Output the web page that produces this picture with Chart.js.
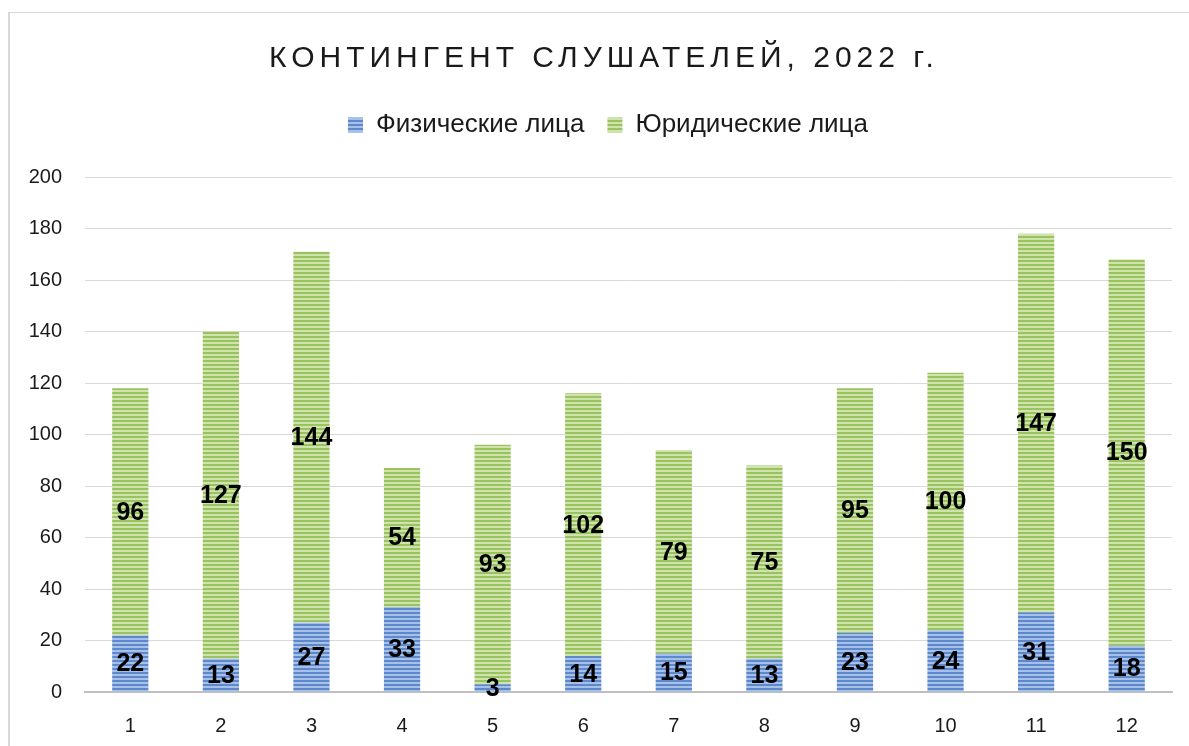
<!DOCTYPE html>
<html lang="ru">
<head>
<meta charset="utf-8">
<title>Контингент слушателей, 2022 г.</title>
<script src="https://cdn.jsdelivr.net/npm/chart.js@4.4.1/dist/chart.umd.min.js"></script>
<style>
  html, body { margin: 0; padding: 0; background: #fff; overflow: hidden; }
  #frame {
    position: absolute; left: 8px; top: 12px; width: 1300px; height: 900px;
    border-left: 2px solid #d9d9d9; border-top: 1px solid #d9d9d9;
  }
  #title {
    position: absolute; left: 8px; width: 1192px; top: 40px;
    text-align: center; font-family: "Liberation Sans", Arial, sans-serif;
    font-size: 30px; letter-spacing: 5px; color: #1a1a1a;
  }
  #myChart { position: absolute; left: 8px; top: 0; }
</style>
</head>
<body>
<div id="frame"></div>
<canvas id="myChart" width="1192" height="746"></canvas>
<div id="title">КОНТИНГЕНТ СЛУШАТЕЛЕЙ, 2022 г.</div>

<script>
const months = ['1', '2', '3', '4', '5', '6', '7', '8', '9', '10', '11', '12'];
const individuals = [22, 13, 27, 33, 3, 14, 15, 13, 23, 24, 31, 18];
const companies = [96, 127, 144, 54, 93, 102, 79, 75, 95, 100, 147, 150];
const yTicks = [0, 20, 40, 60, 80, 100, 120, 140, 160, 180, 200];

// striped fill like the excel "horizontal lines" pattern
function stripes(dark, light) {
    const c = document.createElement('canvas');
    c.width = 8;
    c.height = 4;
    const g = c.getContext('2d');
    g.fillStyle = light;
    g.fillRect(0, 0, 8, 4);
    g.fillStyle = dark;
    g.fillRect(0, 0, 8, 2);
    return g.createPattern(c, 'repeat');
}

const blueFill = stripes('#5d89cc', '#a6c0e8');
const greenFill = stripes('#9ac25f', '#cfe3ad');

const font = '"Liberation Sans", Arial, sans-serif';

// push the plot area down below the legend, and nudge the legend right
const legendSpace = {
    id: 'legendSpace',
    beforeLayout(chart) {
        const legend = chart.legend;
        if (legend && !legend._patched) {
            const fit = legend.fit;
            legend.fit = function () {
                fit.call(this);
                this.height += 29;
            };
            legend._patched = true;
        }
    },
    afterLayout(chart) {
        chart.legend.left += 18;
        chart.legend.right += 18;
    }
};

// value labels in the middle of every segment
const barLabels = {
    id: 'barLabels',
    afterDatasetsDraw(chart) {
        const ctx = chart.ctx;
        ctx.save();
        ctx.font = 'bold 25px ' + font;
        ctx.fillStyle = '#000';
        ctx.textAlign = 'center';
        ctx.textBaseline = 'middle';
        chart.data.datasets.forEach((ds, i) => {
            chart.getDatasetMeta(i).data.forEach((bar, j) => {
                ctx.fillText(ds.data[j], bar.x, (bar.y + bar.base) / 2 + 1);
            });
        });
        ctx.restore();
    }
};

var ctx = document.getElementById('myChart').getContext('2d');
var myChart = new Chart(ctx, {
    type: 'bar',
    data: {
        labels: months,
        datasets: [{
            label: 'Физические лица',
            data: individuals,
            backgroundColor: blueFill,
            borderWidth: 0,
            barPercentage: 0.4,
            categoryPercentage: 1
        }, {
            label: 'Юридические лица',
            data: companies,
            backgroundColor: greenFill,
            borderWidth: 0,
            barPercentage: 0.4,
            categoryPercentage: 1
        }]
    },
    options: {
        responsive: false,
        animation: false,
        layout: {
            padding: { top: 89, right: 28, bottom: 0, left: 0 }
        },
        plugins: {
            legend: {
                position: 'top',
                labels: {
                    font: { family: font, size: 26 },
                    color: '#1a1a1a',
                    boxWidth: 15,
                    boxHeight: 15,
                    padding: 23
                }
            },
            tooltip: { enabled: false }
        },
        scales: {
            x: {
                stacked: true,
                grid: { display: false },
                border: { display: true, color: '#bfbfbf', width: 2 },
                ticks: {
                    font: { family: font, size: 20 },
                    color: '#1a1a1a',
                    padding: 14
                },
                afterFit(scale) { scale.height = 54; }
            },
            y: {
                stacked: true,
                min: 0,
                max: 200,
                afterBuildTicks(scale) {
                    scale.ticks = yTicks.map(v => ({ value: v }));
                },
                grid: { color: '#d9d9d9', lineWidth: 1, drawTicks: false },
                border: { display: false },
                ticks: {
                    font: { family: font, size: 20 },
                    color: '#1a1a1a',
                    padding: 23
                },
                afterFit(scale) { scale.width = 77; }
            }
        }
    },
    plugins: [legendSpace, barLabels]
});
</script>
</body>
</html>
